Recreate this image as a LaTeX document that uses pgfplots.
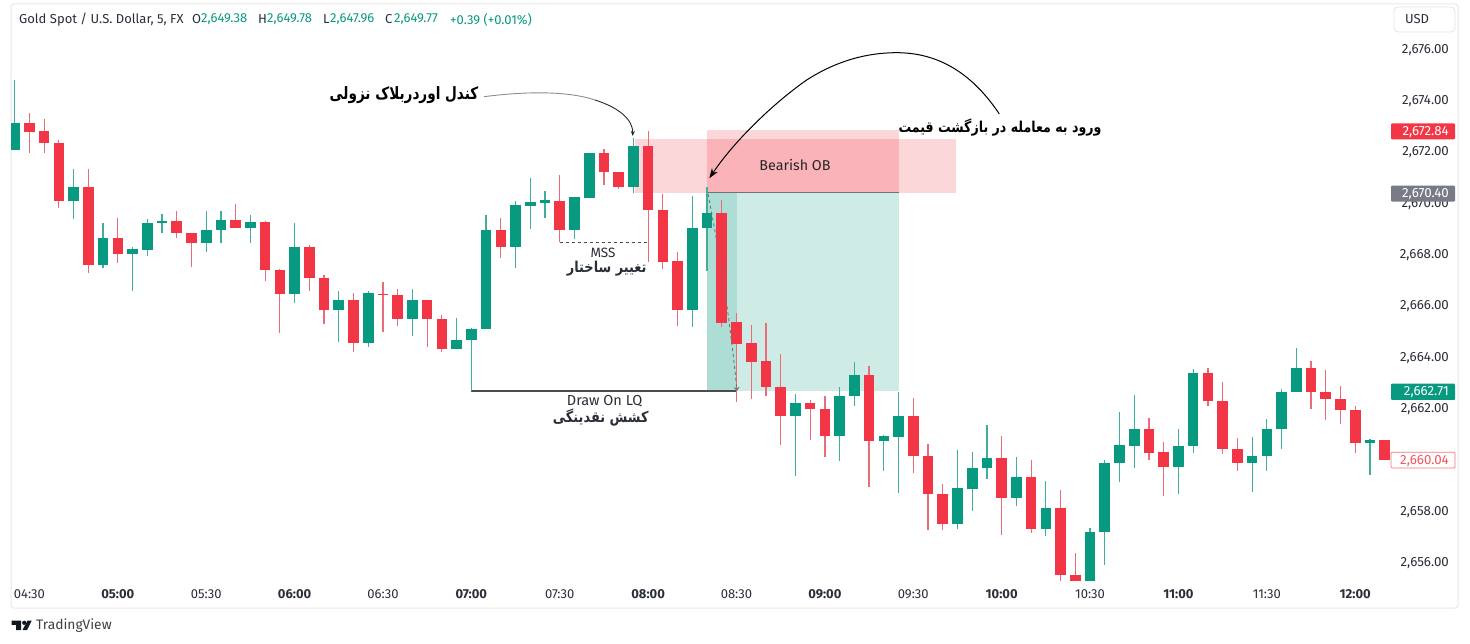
\documentclass[border=0pt]{standalone}
\usepackage{pgfplots}
\usepackage{pgfplotstable}
\pgfplotsset{compat=1.18}
\usepackage{fontspec}
\setmainfont{Fira Sans}
\newfontfamily\arabicfont[Script=Arabic]{DejaVu Sans}
\TeXXeTstate=1
\usetikzlibrary{arrows.meta}
\definecolor{cgreen}{HTML}{089981}
\definecolor{cred}{HTML}{F23645}
\definecolor{wgreen}{HTML}{3FAE9B}
\definecolor{wred}{HTML}{EC6B78}
\definecolor{txt}{HTML}{2A2E39}
\definecolor{tagray}{HTML}{787B86}
\definecolor{logoc}{HTML}{131722}
\pgfplotstableread{
i H T B L
0 2674.79 2673.10 2672.06 2672.06
4 2671.32 2670.61 2670.09 2669.36
6 2669.20 2668.62 2667.58 2667.47
8 2668.29 2668.19 2667.99 2666.55
9 2669.36 2669.23 2668.18 2667.93
10 2669.57 2669.29 2669.22 2668.84
13 2669.67 2668.94 2668.42 2668.07
14 2669.67 2669.32 2668.94 2668.42
16 2669.51 2669.25 2669.01 2668.45
19 2669.20 2668.28 2666.46 2666.08
22 2666.56 2666.20 2665.82 2664.58
24 2666.56 2666.47 2664.52 2664.39
27 2666.63 2666.20 2665.46 2664.82
30 2665.52 2664.65 2664.32 2664.32
31 2665.11 2665.10 2664.65 2662.68
32 2669.54 2668.96 2665.10 2665.10
34 2670.07 2669.92 2668.27 2667.47
35 2670.96 2670.03 2669.89 2668.99
36 2670.46 2670.11 2670.01 2669.40
38 2670.22 2670.22 2668.94 2668.58
39 2671.96 2671.96 2670.20 2670.20
42 2672.52 2672.20 2670.63 2670.38
46 2670.27 2669.01 2665.82 2665.15
47 2670.63 2669.59 2669.01 2667.36
53 2662.55 2662.18 2661.71 2659.35
56 2662.83 2662.48 2660.91 2659.95
57 2663.81 2663.29 2662.48 2662.08
59 2660.97 2660.91 2660.73 2659.56
60 2662.62 2661.69 2660.88 2658.70
64 2660.38 2658.87 2657.48 2657.30
65 2660.28 2659.66 2658.85 2657.97
66 2661.35 2660.06 2659.65 2659.24
68 2660.08 2659.32 2658.49 2658.18
70 2659.15 2658.09 2657.27 2657.01
73 2657.33 2657.18 2655.27 2655.27
74 2659.97 2659.84 2657.18 2655.88
75 2661.84 2660.56 2659.84 2659.13
76 2662.52 2661.17 2660.54 2659.66
79 2661.17 2660.54 2659.71 2658.66
80 2663.53 2663.38 2660.54 2660.26
84 2660.86 2660.15 2659.87 2658.72
85 2661.56 2661.19 2660.14 2659.56
86 2662.75 2662.64 2661.19 2660.41
87 2664.33 2663.56 2662.64 2662.61
92 2660.78 2660.74 2660.63 2659.41
}\greendata
\pgfplotstableread{
i H T B L
1 2673.52 2673.10 2672.78 2671.93
2 2673.27 2672.79 2672.32 2671.93
3 2672.45 2672.32 2670.09 2669.80
5 2671.32 2670.61 2667.58 2667.25
7 2669.42 2668.62 2668.01 2667.64
11 2669.67 2669.29 2668.83 2668.63
12 2668.84 2668.83 2668.42 2667.51
15 2669.94 2669.32 2669.01 2669.01
17 2669.29 2669.27 2667.38 2666.97
18 2667.41 2667.38 2666.46 2664.91
20 2668.36 2668.28 2667.08 2666.56
21 2667.20 2667.08 2665.82 2665.26
23 2666.47 2666.20 2664.52 2664.19
25 2666.92 2666.46 2666.41 2664.97
26 2666.63 2666.41 2665.46 2665.20
28 2666.21 2666.20 2665.46 2664.37
29 2665.63 2665.46 2664.32 2664.19
33 2669.40 2668.96 2668.27 2667.86
37 2671.07 2670.09 2668.94 2668.46
40 2672.09 2671.96 2671.19 2670.71
41 2671.20 2671.19 2670.61 2670.53
43 2672.79 2672.20 2669.71 2667.71
44 2670.33 2669.72 2667.71 2667.43
45 2668.07 2667.73 2665.82 2665.20
48 2670.11 2669.59 2665.30 2665.15
49 2665.72 2665.34 2664.49 2662.25
50 2665.24 2664.52 2663.81 2662.34
51 2665.30 2663.84 2662.81 2662.47
52 2664.09 2662.83 2661.71 2660.57
54 2662.31 2662.18 2661.96 2660.75
55 2662.47 2661.96 2660.91 2660.08
58 2663.64 2663.29 2660.73 2658.91
61 2662.40 2661.69 2660.14 2659.47
62 2660.61 2660.15 2658.67 2657.24
63 2659.04 2658.65 2657.48 2657.24
67 2660.93 2660.06 2658.49 2657.04
69 2659.97 2659.32 2657.27 2657.14
71 2658.82 2658.09 2655.49 2655.26
72 2656.36 2655.49 2655.27 2655.27
77 2661.62 2661.17 2660.26 2659.96
78 2660.69 2660.27 2659.71 2658.58
81 2663.58 2663.38 2662.26 2662.09
82 2663.00 2662.27 2660.40 2660.22
83 2660.83 2660.40 2659.87 2659.56
88 2663.83 2663.56 2662.64 2661.97
89 2663.49 2662.64 2662.35 2661.52
90 2662.86 2662.36 2661.92 2661.39
91 2662.10 2661.92 2660.63 2660.23
93 2660.74 2660.74 2659.97 2659.97
}\reddata
\newcommand{\wicks}[2]{\addplot[draw=none,mark=none,forget plot,
  error bars/.cd,y dir=minus,y explicit,error mark=none,
  error bar style={draw=#1,line width=1.2pt,solid}]
  table[x=i,y=H,y error expr=\thisrow{H}-\thisrow{L}]{#2};}
\newcommand{\bodies}[2]{\addplot[draw=none,mark=none,forget plot,
  error bars/.cd,y dir=minus,y explicit,error mark=none,
  error bar style={draw=#1,line width=10.6pt,solid}]
  table[x=i,y=T,y error expr=\thisrow{T}-\thisrow{B}]{#2};}
\newcommand{\zone}[5]{\addplot[fill=#5,draw=none,forget plot] coordinates {(#1,#3)(#2,#3)(#2,#4)(#1,#4)} --cycle;}
\newcommand{\fa}[1]{{\arabicfont\beginR #1\endR}}
\begin{document}
\begin{tikzpicture}[x=1pt,y=1pt]
\path[use as bounding box] (-11,-62) rectangle (1459,581);
\begin{scope}[x=1pt,y=-1pt,shift={(-11,-581)}]
\draw[black!9,line width=1pt,rounded corners=3pt] (11,4) rectangle (1458,608);
\end{scope}
\begin{axis}[
  at={(0,0)},anchor=south west,scale only axis,width=1382pt,height=577pt,
  xmin=-0.251,xmax=93.57,ymin=2655.26,ymax=2677.75,
  axis line style={draw=none},major tick length=0pt,
  ytick={2656,2658,...,2676},
  yticklabel pos=right,
  yticklabel style={anchor=east,xshift=56pt,yshift=-1pt,inner sep=0pt,font=\fontsize{13.3}{15}\selectfont,text=txt,
    /pgf/number format/.cd,fixed,fixed zerofill,precision=2,1000 sep={,},assume math mode=true},
  xtick={1,7,13,19,25,31,37,43,49,55,61,67,73,79,85,91},
  xticklabels={04:30,\textbf{05:00},05:30,\textbf{06:00},06:30,\textbf{07:00},07:30,\textbf{08:00},08:30,\textbf{09:00},09:30,\textbf{10:00},10:30,\textbf{11:00},11:30,\textbf{12:00}},
  xticklabel style={anchor=base,inner sep=0pt,yshift=-17.5pt,font=\fontsize{13}{15}\selectfont,text=txt},
]
\zone{42.1}{63.9}{2672.50}{2670.40}{cred!20}
\zone{47}{60}{2672.84}{2670.40}{cred!20}
\zone{47}{60}{2672.50}{2670.40}{cred!38}
\zone{47}{60}{2670.40}{2662.65}{cgreen!20}
\zone{47}{49.05}{2670.40}{2662.65}{cgreen!33}
\addplot[black!55,line width=1pt,forget plot] coordinates {(47,2670.40)(60,2670.40)};
\addplot[black!70,line width=1.4pt,forget plot] coordinates {(31,2662.67)(49,2662.67)};
\addplot[black!70,line width=0.9pt,dashed,forget plot] coordinates {(37,2668.46)(43,2668.46)};
\wicks{wgreen}{\greendata}
\wicks{wred}{\reddata}
\bodies{cgreen}{\greendata}
\bodies{cred}{\reddata}
\end{axis}
\begin{scope}[x=1pt,y=-1pt,shift={(-11,-581)},font=\fontsize{13}{15}\selectfont,text=txt]
% header
\node[anchor=west,inner sep=0] at (19,19.5) {Gold Spot / U.S. Dollar, 5, FX};
\node[anchor=west,inner sep=0] at (192,19.5) {O};
\node[anchor=west,inner sep=0,text=cgreen] at (201,19.5) {2,649.38};
\node[anchor=west,inner sep=0] at (258,19.5) {H};
\node[anchor=west,inner sep=0,text=cgreen] at (267,19.5) {2,649.78};
\node[anchor=west,inner sep=0] at (323,19.5) {L};
\node[anchor=west,inner sep=0,text=cgreen] at (330,19.5) {2,647.96};
\node[anchor=west,inner sep=0] at (385,19.5) {C};
\node[anchor=west,inner sep=0,text=cgreen] at (394,19.5) {2,649.77};
\node[anchor=west,inner sep=0,text=cgreen] at (450,19.5) {+0.39 (+0.01\%)};
% USD
\draw[black!10,line width=0.8pt,rounded corners=4pt,fill=white] (1394,7) rectangle (1455,32);
\node[inner sep=0] at (1417,19.5) {USD};
% price tags
\begin{scope}[font=\fontsize{13.3}{15}\selectfont]
\fill[cred,rounded corners=1pt] (1391,123.3) rectangle (1455,139.3);
\node[anchor=east,inner sep=0,text=white] at (1449,132) {2,672.84};
\fill[tagray,rounded corners=1pt] (1391,185.7) rectangle (1455,201.7);
\node[anchor=east,inner sep=0,text=white] at (1449,194.4) {2,670.40};
\fill[cgreen,rounded corners=1pt] (1391,383.7) rectangle (1455,400);
\node[anchor=east,inner sep=0,text=white] at (1449,392.5) {2,662.71};
\draw[cred!70,fill=white,rounded corners=1pt,line width=0.7pt] (1391,452.3) rectangle (1455,468);
\node[anchor=east,inner sep=0,text=cred!85] at (1449,461) {2,660.04};
\end{scope}
% annotations
\node[inner sep=0,font=\fontsize{14.3}{16}\selectfont,text=black!85] at (795,165) {Bearish OB};
\node[inner sep=0,font=\fontsize{13.5}{15}\selectfont] at (603,253) {MSS};
\node[inner sep=0,font=\fontsize{14.5}{16}\selectfont] at (604.7,401.5) {Draw On LQ};
\node[inner sep=0,xscale=0.86,font=\fontsize{15}{17}\bfseries\selectfont] at (606.7,269) {\fa{تغییر ساختار}};
\node[inner sep=0,xscale=0.86,font=\fontsize{15}{17}\bfseries\selectfont] at (600.7,418) {\fa{کشش نقدینگی}};
\node[inner sep=0,xscale=0.8,font=\fontsize{17}{19}\bfseries\selectfont,text=black] at (404,95) {\fa{کندل اوردربلاک نزولی}};
\node[inner sep=0,xscale=0.84,font=\fontsize{15}{17}\bfseries\selectfont,text=black] at (1000,128) {\fa{ورود به معامله در بازگشت قیمت}};
% callout arrows
\draw[black!45,line width=0.9pt] (484,96.7) .. controls (520,92) and (565,90) .. (595,100);
\draw[black!85,line width=0.9pt,-{Stealth[length=5pt,width=4pt]}] (595,100) .. controls (620,108) and (633,120) .. (632.7,136);
\draw[black,line width=1pt,-{Stealth[length=10pt,width=7pt]}] (999.3,114) .. controls (970,70) and (935,52.7) .. (896.7,52.7) .. controls (860,52.7) and (830,65) .. (806.7,80) .. controls (775,102) and (735,140) .. (709.3,178.3);
\draw[black!55,line width=0.9pt,dashed,-{Stealth[length=4pt,width=6pt,open]}] (708,194) .. controls (716,235) and (728,300) .. (737,391);
% logo
\fill[logoc] (11.5,620.7) -- (21,620.7) -- (21,630) -- (16,630) -- (16,624.8) -- (11.5,624.8) -- cycle;
\fill[logoc] (24.2,622.8) circle (2.1);
\fill[logoc] (27.5,620.7) -- (31.7,620.7) -- (27,630) -- (22.5,630) -- cycle;
\node[anchor=west,inner sep=0,font=\fontsize{13.8}{15}\selectfont,text=black!75] at (36,626) {TradingView};
\end{scope}
\end{tikzpicture}
\end{document}
